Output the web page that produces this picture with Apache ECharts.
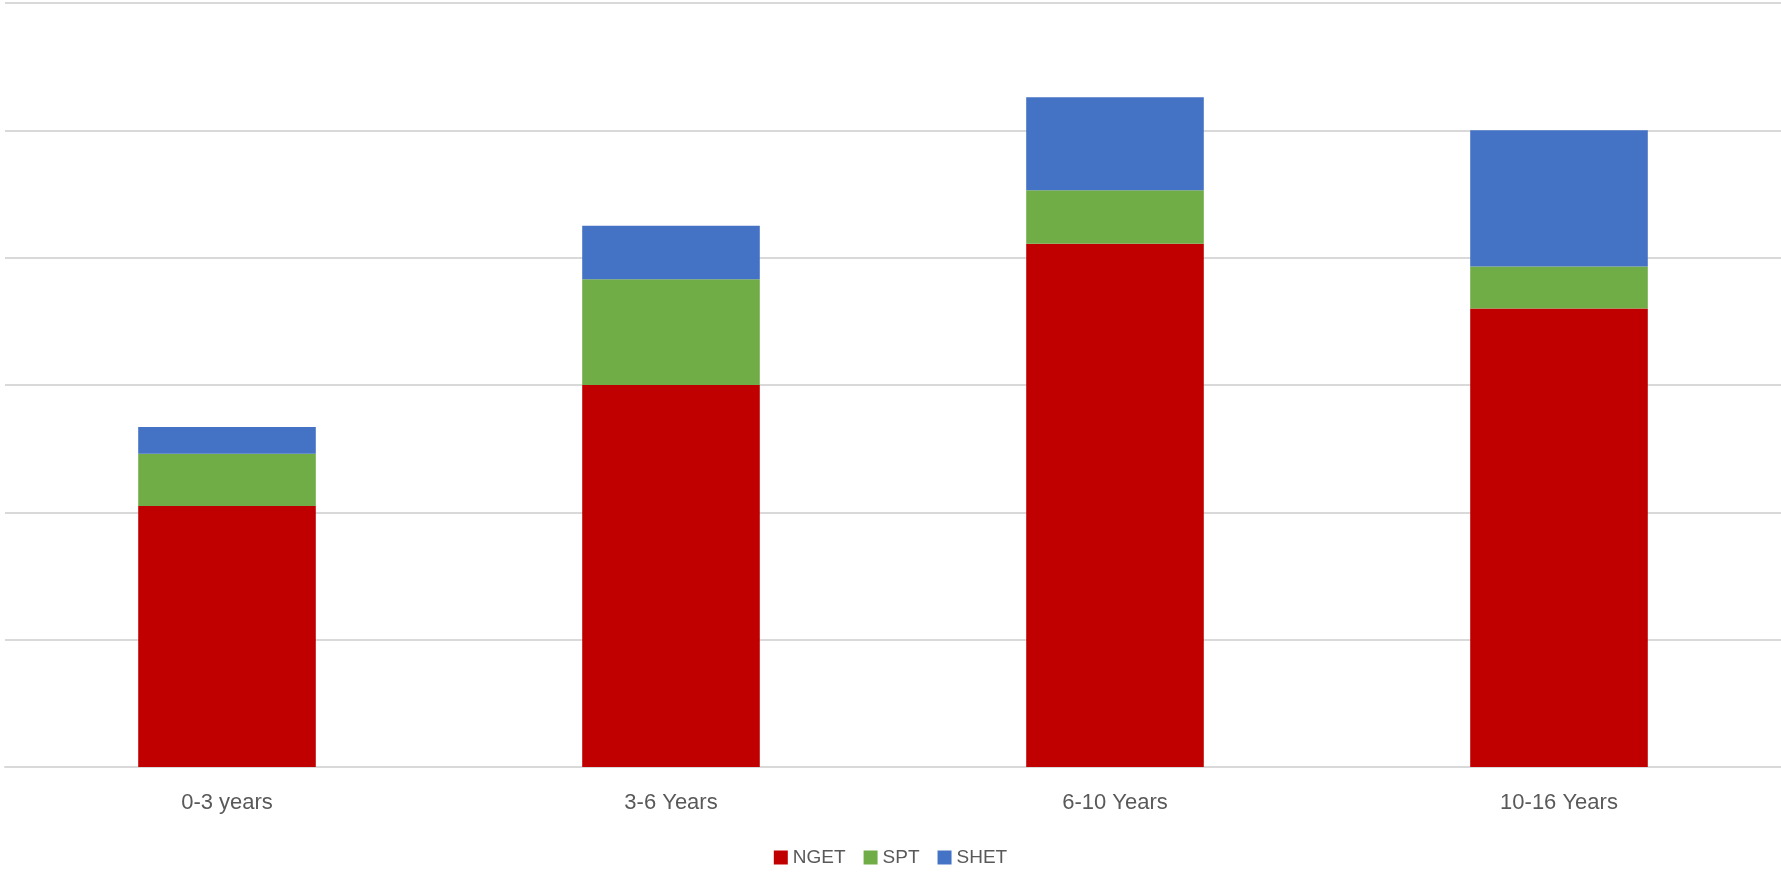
<!DOCTYPE html>
<html>
<head>
<meta charset="utf-8">
<script src="https://cdn.jsdelivr.net/npm/echarts@6/dist/echarts.min.js"></script>
<style>
  html, body { margin: 0; padding: 0; background: #fff; }
  #main { width: 1781px; height: 872px; }
</style>
</head>
<body>
<div id="main"></div>
<script>
// categories and stacked values (in gridline units)
var categories = ['0-3 years', '3-6 Years', '6-10 Years', '10-16 Years'];
var nget = [2.05, 3.0, 4.11, 3.6];
var spt = [0.41, 0.83, 0.42, 0.33];
var shet = [0.21, 0.42, 0.73, 1.07];

var chart = echarts.init(document.getElementById('main'));
var option = {
	animation: false,
	legend: {
		top: 843,
		left: 'center',
		itemWidth: 14,
		itemHeight: 14,
		itemGap: 18,
		icon: 'rect',
		textStyle: { color: '#595959', fontSize: 19, fontFamily: 'Liberation Sans' },
		data: ['NGET', 'SPT', 'SHET']
	},
	grid: {
		left: 5,
		right: 0,
		top: 3,
		bottom: 105
	},
	xAxis: {
		type: 'category',
		data: categories,
		axisTick: { show: false },
		axisLine: { lineStyle: { color: '#D9D9D9', width: 2 } },
		axisLabel: { color: '#595959', fontSize: 22, margin: 25, fontFamily: 'Liberation Sans' }
	},
	yAxis: {
		type: 'value',
		min: 0,
		max: 6,
		interval: 1,
		axisLabel: { show: false },
		axisLine: { show: false },
		axisTick: { show: false },
		splitLine: { lineStyle: { color: '#D9D9D9', width: 2 } }
	},
	series: [
		{
			name: 'NGET',
			type: 'bar',
			stack: 'total',
			barWidth: '40%',
			itemStyle: { color: '#C00000' },
			data: nget
		},
		{
			name: 'SPT',
			type: 'bar',
			stack: 'total',
			itemStyle: { color: '#70AD47' },
			data: spt
		},
		{
			name: 'SHET',
			type: 'bar',
			stack: 'total',
			itemStyle: { color: '#4472C4' },
			data: shet
		}
	]
};
chart.setOption(option);
</script>
</body>
</html>
